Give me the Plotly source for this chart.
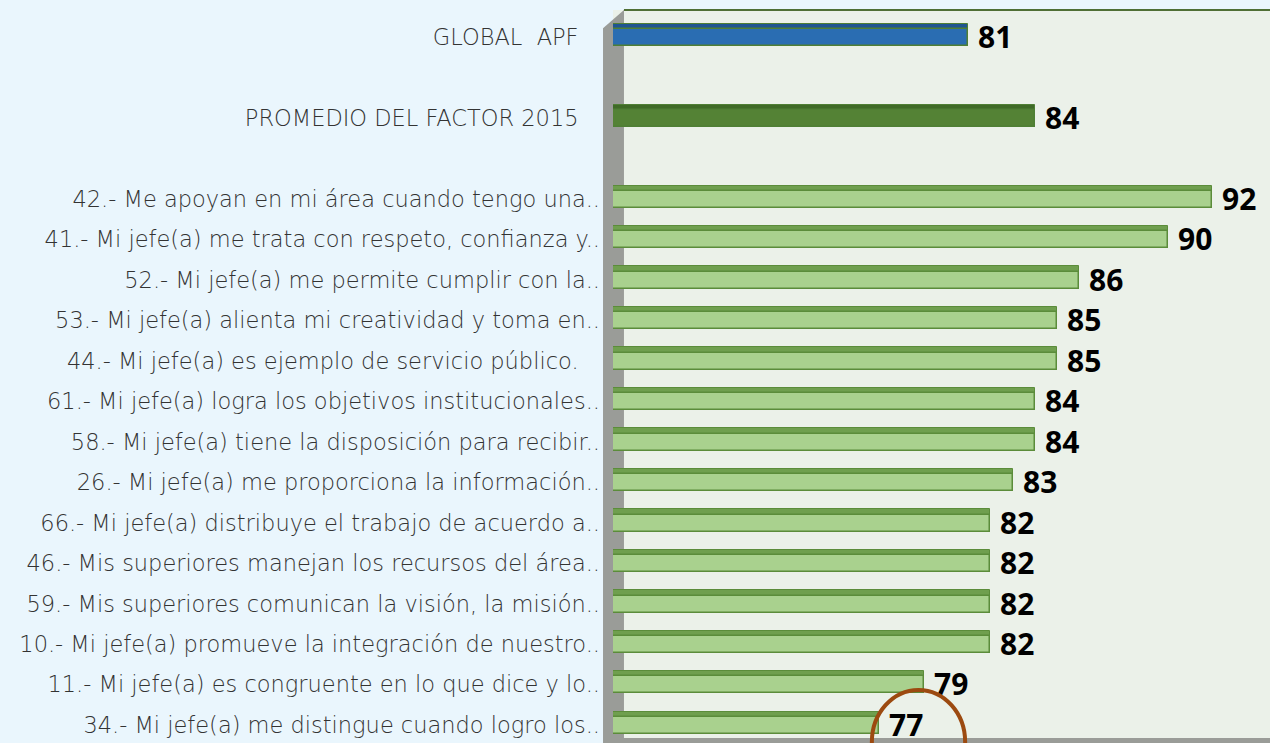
import plotly.graph_objects as go

# rows from top to bottom; None marks an empty slot
labels = [
    "GLOBAL  APF\u00a0\u00a0\u00a0",
    None,
    "PROMEDIO DEL FACTOR 2015\u00a0\u00a0\u00a0",
    None,
    "42.- Me apoyan en mi área cuando tengo una..",
    "41.- Mi jefe(a) me trata con respeto, confianza y..",
    "52.- Mi jefe(a) me permite cumplir con la..",
    "53.- Mi jefe(a) alienta mi creatividad y toma en..",
    "44.- Mi jefe(a) es ejemplo de servicio público.\u00a0\u00a0\u00a0",
    "61.- Mi jefe(a) logra los objetivos institucionales..",
    "58.- Mi jefe(a) tiene la disposición para recibir..",
    "26.- Mi jefe(a) me proporciona la información..",
    "66.- Mi jefe(a) distribuye el trabajo de acuerdo a..",
    "46.- Mis superiores manejan los recursos del área..",
    "59.- Mis superiores comunican la visión, la misión..",
    "10.- Mi jefe(a) promueve la integración de nuestro..",
    "11.- Mi jefe(a) es congruente en lo que dice y lo..",
    "34.- Mi jefe(a) me distingue cuando logro los..",
]
values = [81, None, 84, None, 92, 90, 86, 85, 85, 84, 84, 83, 82, 82, 82, 82, 79, 77]
kinds = ["global", None, "factor", None] + ["item"] * 14

front = {"global": "#2a6db2", "factor": "#548235", "item": "#a9d18e"}
top = {"global": "#1f5591", "factor": "#3f6a27", "item": "#6f9f4e"}
edge = {"global": "#4f7f35", "factor": "#4f7f35", "item": "#5b8c3a"}

pos = [i for i, v in enumerate(values) if v is not None]
xs = [values[i] for i in pos]
ks = [kinds[i] for i in pos]

fig = go.Figure()

# top face of the pseudo-3D bars
fig.add_trace(go.Bar(
    y=pos, x=xs, base=0, orientation="h", width=0.13, offset=-0.33,
    marker=dict(color=[top[k] for k in ks], line=dict(color=[edge[k] for k in ks], width=1)),
    hoverinfo="skip", showlegend=False,
))
# front face with value labels
fig.add_trace(go.Bar(
    y=pos, x=xs, base=0, orientation="h", width=0.42, offset=-0.2,
    marker=dict(color=[front[k] for k in ks], line=dict(color=[edge[k] for k in ks], width=1.5)),
    texttemplate="\u00a0%{x}", textposition="outside", constraintext="none",
    textfont=dict(family="Open Sans", size=30, color="#000000", weight="bold"),
    cliponaxis=False, showlegend=False,
))

tick_pos = [i for i, l in enumerate(labels) if l is not None]
tick_txt = [labels[i] for i in tick_pos]

fig.update_layout(
    width=1270, height=743,
    margin=dict(l=613, r=0, t=10, b=5),
    paper_bgcolor="#eaf6fd",
    plot_bgcolor="#ebf1e9",
    barmode="overlay",
    bargap=0,
    xaxis=dict(range=[65, 94.6], showgrid=False, showticklabels=False, zeroline=False, ticks=""),
    yaxis=dict(range=[17.32, -0.667], tickvals=tick_pos, ticktext=tick_txt, showgrid=False,
               zeroline=False, ticks="", ticklabelstandoff=12,
               tickfont=dict(family="DejaVu Sans", size=22.5, color="#333333", weight=200)),
    shapes=[
        # left wall
        dict(type="path", xref="paper", yref="paper",
             path="M -0.0152,-0.02 L -0.0152,0.975 L 0.0167,1 L 0.0167,-0.01 Z",
             fillcolor="#9a9c98", line=dict(width=0), layer="below"),
        # top border
        dict(type="line", xref="paper", yref="paper", x0=0.0167, x1=1, y0=1, y1=1,
             line=dict(color="#4f6f35", width=2)),
        # floor
        dict(type="rect", xref="paper", yref="paper", x0=0.0, x1=1, y0=-0.01, y1=0.0,
             fillcolor="#9a9c98", line=dict(width=0)),
        # highlight circle
        dict(type="circle", xref="paper", yref="paper", x0=0.394, x1=0.536, y0=-0.077, y1=0.066,
             line=dict(color="#9c4a10", width=4)),
    ],
)

fig.write_html("out.html", config={"displayModeBar": False},
               post_script="document.body.style.margin='0px';")
